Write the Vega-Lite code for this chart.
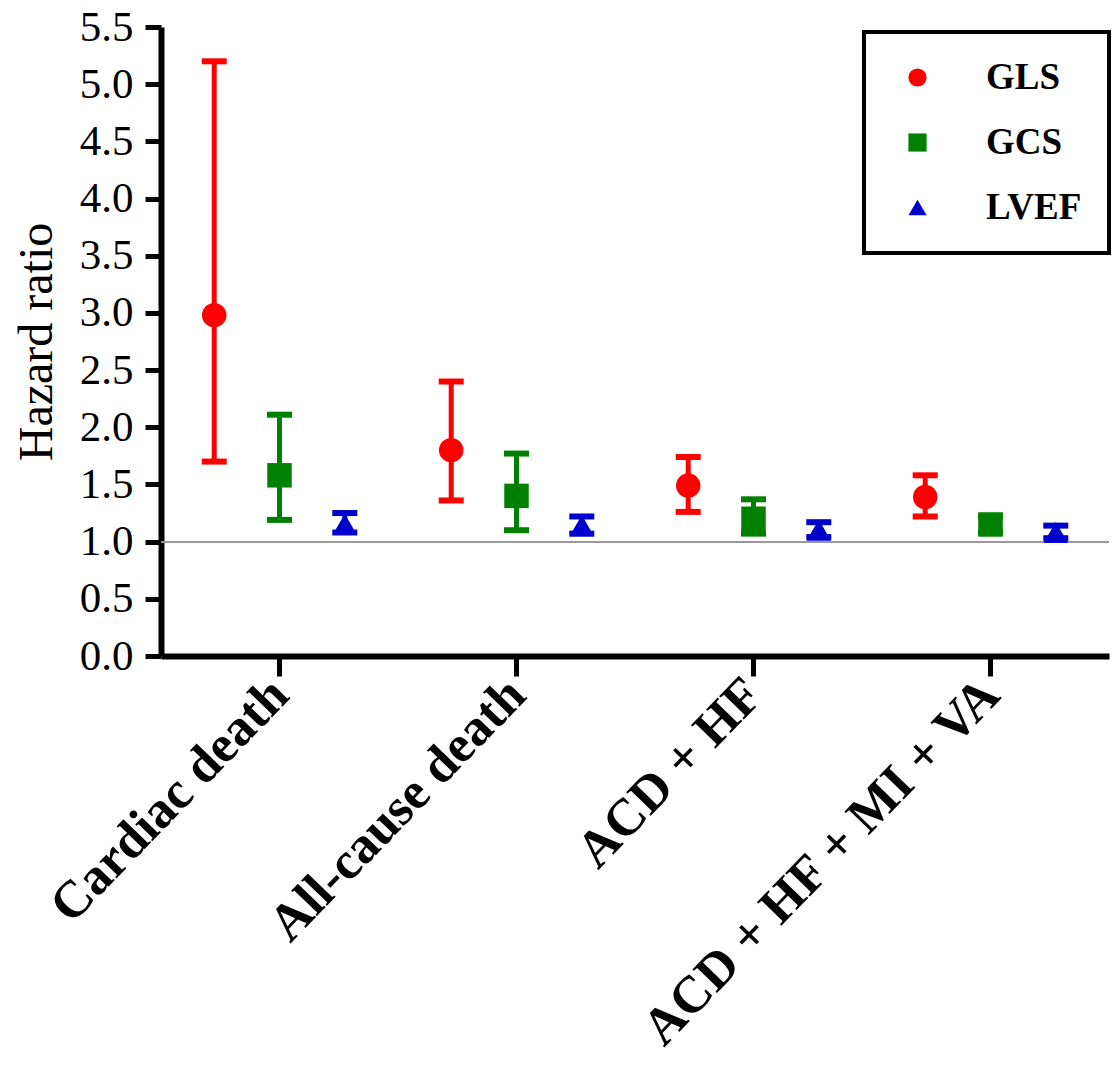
{
  "$schema": "https://vega.github.io/schema/vega-lite/v6.json",
  "autosize": {"type": "none"},
  "padding": {"left": 161, "top": 27, "right": 11, "bottom": 416},
  "width": 948,
  "height": 629,
  "background": "white",
  "config": {
    "view": {"stroke": null},
    "font": "Liberation Serif",
    "legend": {
      "title": null,
      "orient": "none",
      "legendX": 703,
      "legendY": 5,
      "strokeColor": "black",
      "fillColor": "white",
      "padding": 27,
      "rowPadding": 27,
      "symbolOffset": 8,
      "symbolSize": 330,
      "symbolStrokeWidth": 0,
      "labelOffset": 50,
      "labelFont": "Liberation Serif",
      "labelFontWeight": "bold",
      "labelFontSize": 37,
      "labelColor": "black"
    }
  },
  "data": {
    "values": [
      {"outcome": "Cardiac death", "index": "GLS", "hr": 2.98, "lo": 1.70, "hi": 5.20},
      {"outcome": "Cardiac death", "index": "GCS", "hr": 1.58, "lo": 1.19, "hi": 2.11},
      {"outcome": "Cardiac death", "index": "LVEF", "hr": 1.15, "lo": 1.08, "hi": 1.25},
      {"outcome": "All-cause death", "index": "GLS", "hr": 1.80, "lo": 1.36, "hi": 2.40},
      {"outcome": "All-cause death", "index": "GCS", "hr": 1.40, "lo": 1.10, "hi": 1.77},
      {"outcome": "All-cause death", "index": "LVEF", "hr": 1.14, "lo": 1.07, "hi": 1.22},
      {"outcome": "ACD + HF", "index": "GLS", "hr": 1.49, "lo": 1.26, "hi": 1.74},
      {"outcome": "ACD + HF", "index": "GCS", "hr": 1.20, "lo": 1.07, "hi": 1.37},
      {"outcome": "ACD + HF", "index": "LVEF", "hr": 1.10, "lo": 1.04, "hi": 1.17},
      {"outcome": "ACD + HF + MI + VA", "index": "GLS", "hr": 1.39, "lo": 1.22, "hi": 1.58},
      {"outcome": "ACD + HF + MI + VA", "index": "GCS", "hr": 1.15, "lo": 1.08, "hi": 1.22},
      {"outcome": "ACD + HF + MI + VA", "index": "LVEF", "hr": 1.08, "lo": 1.03, "hi": 1.14}
    ]
  },
  "encoding": {
    "x": {
      "field": "outcome", "type": "nominal",
      "sort": ["Cardiac death", "All-cause death", "ACD + HF", "ACD + HF + MI + VA"],
      "scale": {"paddingInner": 0, "paddingOuter": 0},
      "axis": {
        "title": null,
        "labelAngle": -46,
        "labelAlign": "right",
        "labelBaseline": "middle",
        "labelFont": "Liberation Serif",
        "labelFontWeight": "bold",
        "labelFontSize": 52,
        "labelColor": "black",
        "labelPadding": 10,
        "labelLimit": 1000,
        "domainColor": "black",
        "domainWidth": 6,
        "tickColor": "black",
        "tickWidth": 5,
        "tickSize": 20
      }
    },
    "xOffset": {
      "field": "index", "type": "nominal",
      "sort": ["GLS", "GCS", "LVEF"],
      "scale": {"paddingInner": 0, "paddingOuter": 0.315}
    },
    "color": {
      "field": "index", "type": "nominal",
      "sort": ["GLS", "GCS", "LVEF"],
      "scale": {"domain": ["GLS", "GCS", "LVEF"], "range": ["#ff0000", "#008000", "#0000cc"]},
      "legend": {"encode": {"legend": {"update": {"strokeWidth": {"value": 4}}}}}
    }
  },
  "layer": [
    {
      "mark": {"type": "rule", "color": "#999999", "strokeWidth": 1.2},
      "encoding": {
        "y": {"datum": 1, "type": "quantitative"},
        "x": null, "xOffset": null, "color": null
      }
    },
    {
      "mark": {"type": "rule", "strokeWidth": 5},
      "encoding": {
        "y": {"field": "lo", "type": "quantitative"},
        "y2": {"field": "hi"}
      }
    },
    {
      "mark": {"type": "tick", "thickness": 6, "size": 25, "orient": "horizontal", "opacity": 1},
      "encoding": {"y": {"field": "lo", "type": "quantitative"}}
    },
    {
      "mark": {"type": "tick", "thickness": 6, "size": 25, "orient": "horizontal", "opacity": 1},
      "encoding": {"y": {"field": "hi", "type": "quantitative"}}
    },
    {
      "mark": {"type": "point", "filled": true, "opacity": 1, "size": 600},
      "encoding": {
        "y": {
          "field": "hr", "type": "quantitative",
          "scale": {"domain": [0, 5.5], "nice": false, "zero": true},
          "axis": {
            "title": "Hazard ratio",
            "titleFont": "Liberation Serif",
            "titleFontWeight": "normal",
            "titleFontSize": 48,
            "titleColor": "black",
            "titlePadding": 18,
            "values": [0, 0.5, 1, 1.5, 2, 2.5, 3, 3.5, 4, 4.5, 5, 5.5],
            "format": ".1f",
            "labelFont": "Liberation Serif",
            "labelFontSize": 43,
            "labelColor": "black",
            "labelPadding": 12,
            "labelFlush": false,
            "labelOverlap": false,
            "domainColor": "black",
            "domainWidth": 6,
            "tickColor": "black",
            "tickWidth": 5,
            "tickSize": 16,
            "grid": false
          }
        },
        "shape": {
          "field": "index", "type": "nominal",
          "scale": {"domain": ["GLS", "GCS", "LVEF"], "range": ["circle", "square", "triangle-up"]},
          "legend": {"encode": {"legend": {"update": {"strokeWidth": {"value": 4}}}}}
        }
      }
    }
  ]
}
